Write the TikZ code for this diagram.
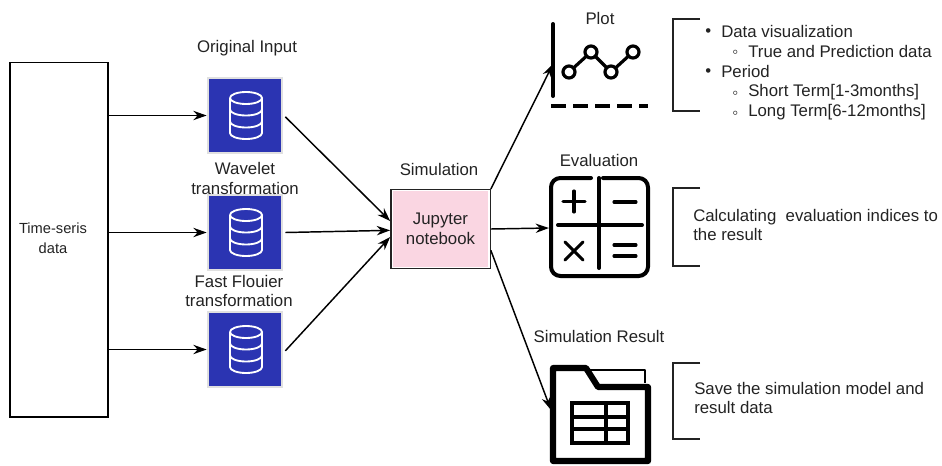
\documentclass[tikz,border=0pt]{standalone}
\usepackage{fontspec}
\usetikzlibrary{arrows.meta}
\setmainfont{Liberation Sans}
\definecolor{dbblue}{RGB}{43,52,178}
\definecolor{notepink}{RGB}{250,214,226}
\definecolor{inktext}{RGB}{35,35,35}
\tikzset{
	lbl/.style={font=\fontsize{12.6pt}{14.9pt}\selectfont,text=inktext,align=center,inner sep=0pt},
	txt/.style={lbl,anchor=west,align=left},
	flow/.style={-{Stealth[length=10pt,width=7pt]},line width=1.1pt},
	bracket/.style={line width=1pt,inktext},
	icon/.style={line width=3pt,line cap=round,line join=round},
	dbbox/.style={draw=black!12,fill=dbblue,line width=1.5pt,minimum size=56pt,inner sep=0pt}
}
\begin{document}
\begin{tikzpicture}[x=0.75pt,y=-0.75pt]
	\useasboundingbox (0,0) rectangle (942,465);
	% left block
	\node[draw,line width=1pt,minimum width=73.5pt,minimum height=266pt,lbl] (tsdata) at(59,239.5){};
	\node[lbl,font=\fontsize{11pt}{14.9pt}\selectfont] (tslabel) at(53,238){Time-seris\\data};
	% stores
	\foreach \n/\y in {1/115.5,2/232.5,3/349.5}{
		\node[dbbox] (db\n) at(245,\y){};
		\begin{scope}[shift={(246,\y)},white,line width=1.4pt]
			\draw (-16,-17.5) arc [start angle=180, end angle=-180, x radius=16, y radius=6];
			\draw (-16,-17.5)--(-16,17.5) arc [start angle=180, end angle=0, x radius=16, y radius=6]--(16,-17.5);
			\draw (-16,-6) arc [start angle=180, end angle=0, x radius=16, y radius=6];
			\draw (-16,6) arc [start angle=180, end angle=0, x radius=16, y radius=6];
		\end{scope}
	}
	\node[lbl] (lbinput) at(247,48){Original Input};
	\node[lbl] (lbwave) at(245,178.5){Wavelet\\transformation};
	\node[lbl] (lbfast) at(239,291){Fast Flouier\\transformation};
	% simulation block
	\node[fill=notepink,minimum width=71.5pt,minimum height=56.5pt,inner sep=0pt,lbl,anchor=center] (jupyter) at(440.5,229){Jupyter\\notebook};
	\node[draw,line width=1pt,inktext,minimum width=74.5pt,minimum height=59pt] (sim) at(440.5,229){};
	\node[lbl] (lbsim) at(439,169){Simulation};
	% free ends of connectors
	\coordinate (plotin) at(553,64);
	\coordinate (evalin) at(549,228);
	\coordinate (resin) at(551,410);
	% connectors
	\draw[flow](db1.west -| tsdata.east)--(db1.west);
	\draw[flow](db2.west -| tsdata.east)--(db2.west);
	\draw[flow](db3.west -| tsdata.east)--(db3.west);
	\draw[flow]([xshift=1.5pt,yshift=-1pt]db1.east)--([yshift=6pt]sim.west);
	\draw[flow]([xshift=1.5pt]db2.east)--([yshift=-1pt]sim.west);
	\draw[flow]([xshift=1.5pt,yshift=-1pt]db3.east)--([yshift=-6pt]sim.west);
	\draw[flow](sim.north east)--(plotin);
	\draw[flow](sim.east)--(evalin);
	\draw[flow]([yshift=-16pt]sim.east)--(resin);
	% plot icon
	\node[lbl] (lbplot) at(600,18){Plot};
	\draw[icon] (553,24)--(553,96);
	\draw[line width=3pt,dash pattern=on 11.5pt off 5pt] (551,106)--(648,106);
	\draw[icon,line width=2.4pt] (569,72)--(591,52)--(611,72)--(633,52);
	\foreach \x/\y in {569/72,591/52,611/72,633/52}
		\draw[line width=2.4pt,fill=white] (\x,\y) circle [radius=6];
	% evaluation icon
	\node[lbl] (lbeval) at(599,160){Evaluation};
	\draw[icon,rounded corners=7pt] (591,178)--(551,178)--(551,276)--(648,276)--(648,178)--(603,178);
	\draw[icon] (599,178)--(599,268);
	\draw[icon] (558,225)--(642,225);
	\draw[icon,line width=2.3pt] (574,191)--(574,212) (563,201.5)--(585,201.5);
	\draw[icon,line width=2.3pt] (614,202)--(636,202);
	\draw[icon,line width=2.3pt] (565,242)--(583,260) (583,242)--(565,260);
	\draw[icon,line width=2.3pt] (614,245)--(636,245) (614,256)--(636,256);
	% result icon
	\node[lbl] (lbres) at(599,336){Simulation Result};
	\draw[line width=1.8pt,line join=round] (590,370)--(645,370)--(645,383);
	\draw[line width=4.6pt,line join=round] (553,368)--(586,368)--(598,387)--(648,387)--(648,461)--(553,461)--cycle;
	\draw[line width=2.6pt] (572,403) rectangle (628,443) (572,417)--(628,417) (572,429)--(628,429) (606,403)--(606,443);
	% brackets
	\draw[bracket] (700,19)--(673,19)--(673,111)--(700,111);
	\draw[bracket] (700,188)--(673,188)--(673,266)--(700,266);
	\draw[bracket] (700,363)--(673,363)--(673,439)--(700,439);
	% notes
	\node[txt] (bua) at(705,33){•};
	\node[txt] (nota) at(721,31){Data visualization};
	\node[txt] (bub) at(732,54){◦};
	\node[txt] (notb) at(748,51){True and Prediction data};
	\node[txt] (buc) at(705,73){•};
	\node[txt] (notc) at(721,71){Period};
	\node[txt] (bud) at(732,95){◦};
	\node[txt] (notd) at(748,92){Short Term[1-3months]};
	\node[txt] (bue) at(732,115){◦};
	\node[txt] (note) at(748,112){Long Term[6-12months]};
	\node[txt] (notf) at(693,225){Calculating\ \ evaluation indices to\\the result};
	\node[txt] (notg) at(694,398){Save the simulation model and\\result data};
\end{tikzpicture}
\end{document}
